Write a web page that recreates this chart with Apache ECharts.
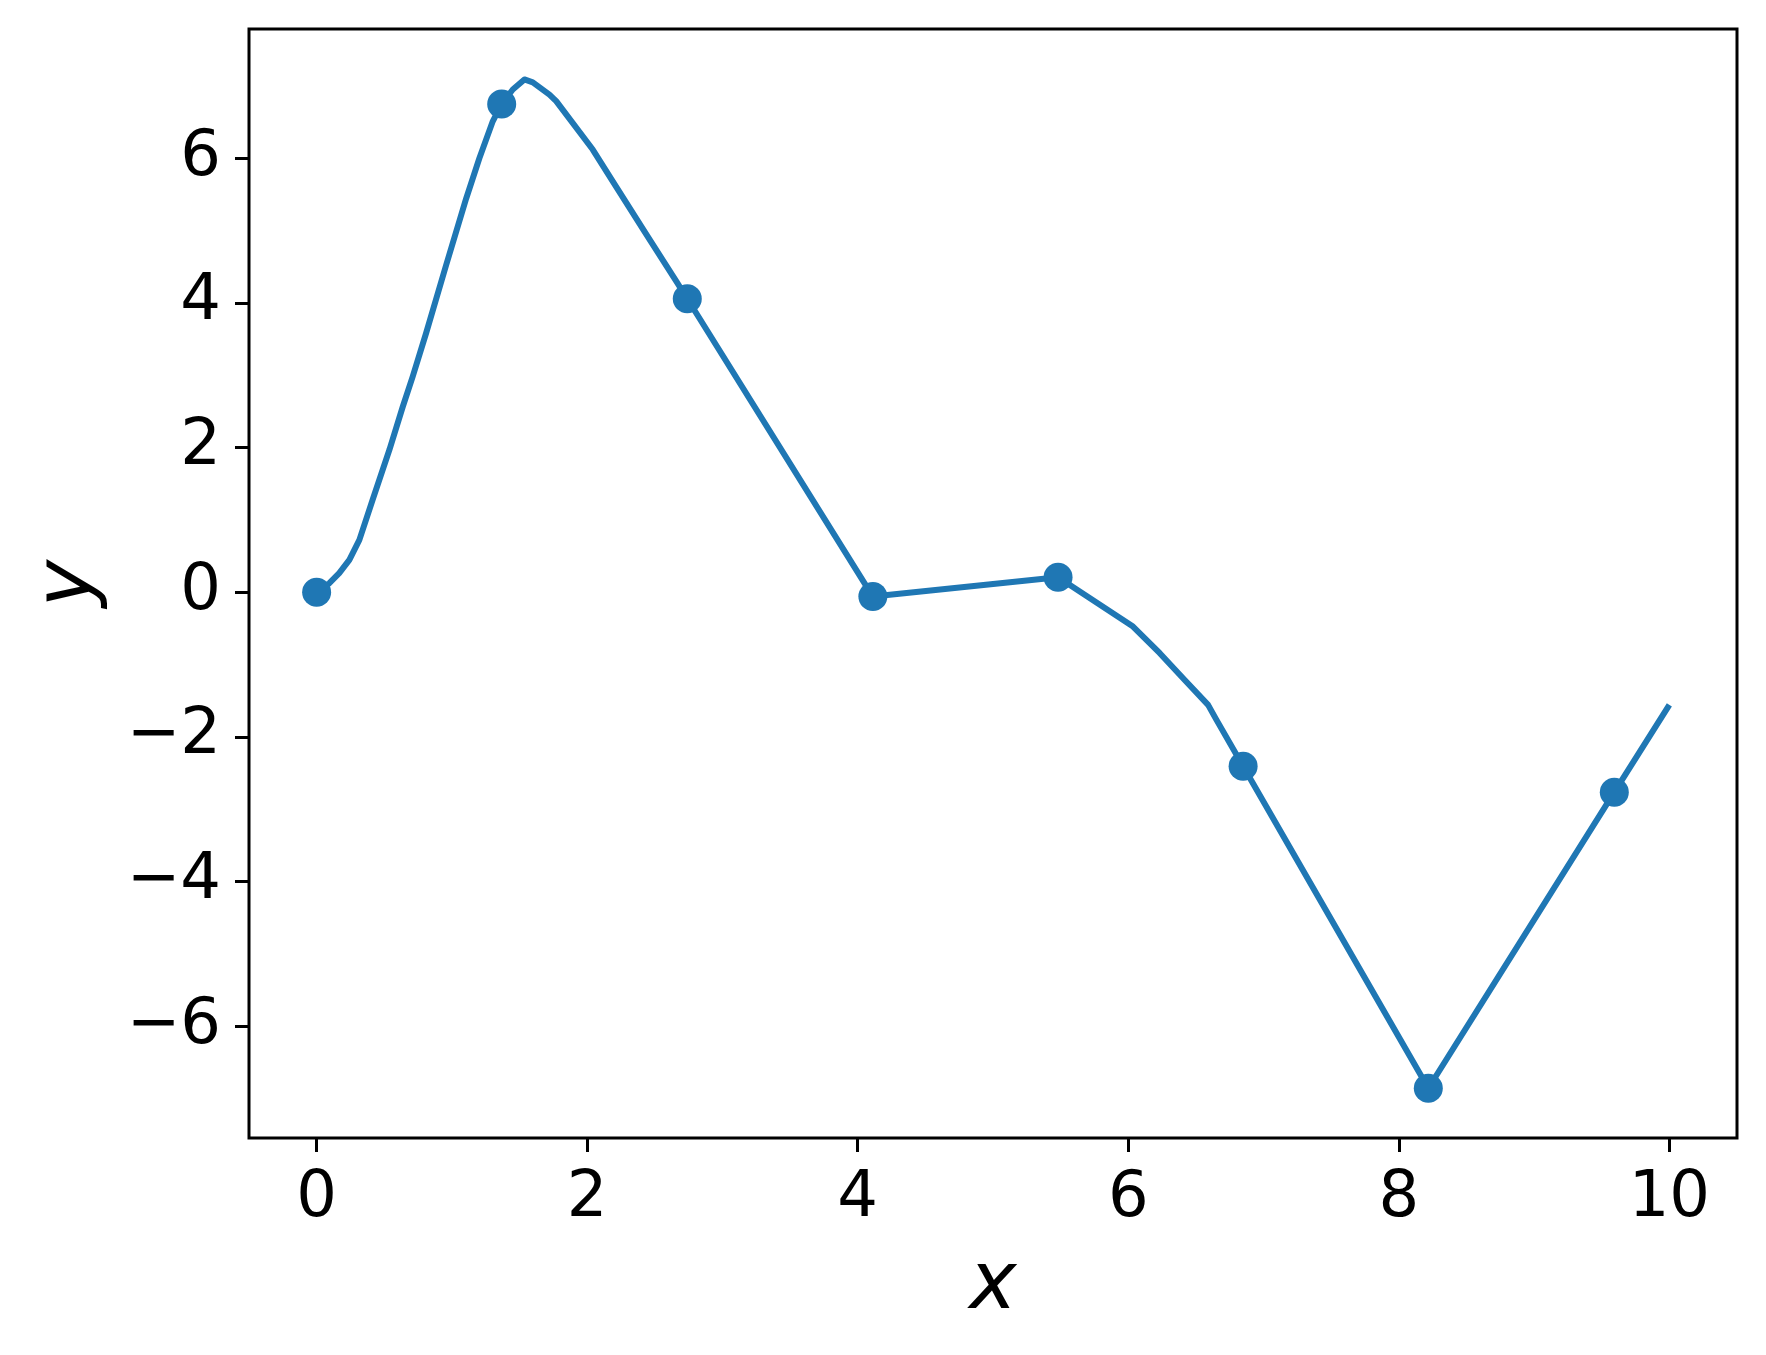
<!DOCTYPE html>
<html>
<head>
<meta charset="utf-8">
<script src="https://cdn.jsdelivr.net/npm/echarts@6/dist/echarts.min.js"></script>
<style>
html,body{margin:0;padding:0;background:#fff;}
#chart{width:1766px;height:1355px;}
</style>
</head>
<body>
<div id="chart"></div>
<script>
// Dense curve
const lineX = [0, 0.094, 0.167, 0.242, 0.316, 0.414, 0.538, 0.636, 0.710, 0.809, 0.957, 1.105, 1.203, 1.302, 1.368, 1.450, 1.536, 1.598, 1.721, 1.771, 2.041, 2.189, 2.436, 2.658, 2.740, 4.112, 5.481, 6.035, 6.233, 6.405, 6.590, 6.652, 6.849, 8.218, 9.593, 10.0];
const lineY = [0, 0.124, 0.263, 0.447, 0.723, 1.277, 1.968, 2.56, 2.98, 3.58, 4.52, 5.44, 6.00, 6.51, 6.75, 6.95, 7.09, 7.05, 6.88, 6.79, 6.12, 5.68, 4.95, 4.30, 4.057, -0.061, 0.207, -0.476, -0.844, -1.19, -1.559, -1.766, -2.407, -6.86, -2.766, -1.56];
// Sample points (markers)
const pointX = [0, 1.368, 2.740, 4.112, 5.481, 6.849, 8.218, 9.593];
const pointY = [0, 6.75, 4.057, -0.061, 0.207, -2.407, -6.86, -2.766];
// Tick values
const xTicks = [0, 2, 4, 6, 8, 10];
const yTicks = [-6, -4, -2, 0, 2, 4, 6];

const FONT = 'DejaVu Sans';
const COLOR = '#1f77b4';
const fmt = v => String(v).replace('-', '\u2212');

const chart = echarts.init(document.getElementById('chart'), null, {renderer: 'canvas'});
chart.setOption({
  animation: false,
  backgroundColor: '#fff',
  grid: {
    left: 249, top: 29, right: 29, bottom: 217,
    show: true, borderColor: '#000', borderWidth: 3, backgroundColor: 'transparent'
  },
  xAxis: {
    type: 'value', min: -0.5, max: 10.5,
    name: 'x', nameLocation: 'middle', nameGap: 109,
    nameTextStyle: {fontFamily: FONT, fontSize: 80, fontStyle: 'italic', color: '#000'},
    axisLine: {show: false, onZero: false},
    axisTick: {show: true, inside: false, length: 14, lineStyle: {color: '#000', width: 3}, customValues: xTicks},
    axisLabel: {show: true, margin: 29, fontFamily: FONT, fontSize: 64, color: '#000', customValues: xTicks, formatter: fmt},
    splitLine: {show: false}
  },
  yAxis: {
    type: 'value', min: -7.548, max: 7.787,
    name: 'y', nameLocation: 'middle', nameGap: 140,
    nameTextStyle: {fontFamily: FONT, fontSize: 80, fontStyle: 'italic', color: '#000'},
    axisLine: {show: false, onZero: false},
    axisTick: {show: true, inside: false, length: 14, lineStyle: {color: '#000', width: 3}, customValues: yTicks},
    axisLabel: {show: true, margin: 28, fontFamily: FONT, fontSize: 64, color: '#000', customValues: yTicks, formatter: fmt, padding: [9, 0, 0, 0]},
    splitLine: {show: false}
  },
  series: [
    {
      type: 'line',
      data: lineX.map((x, i) => [x, lineY[i]]),
      showSymbol: false,
      smooth: false,
      lineStyle: {color: COLOR, width: 6, cap: 'butt', join: 'round'},
      z: 2
    },
    {
      type: 'scatter',
      data: pointX.map((x, i) => [x, pointY[i]]),
      symbol: 'circle',
      symbolSize: 29,
      itemStyle: {color: COLOR, opacity: 1},
      z: 3
    }
  ]
});
</script>
</body>
</html>
